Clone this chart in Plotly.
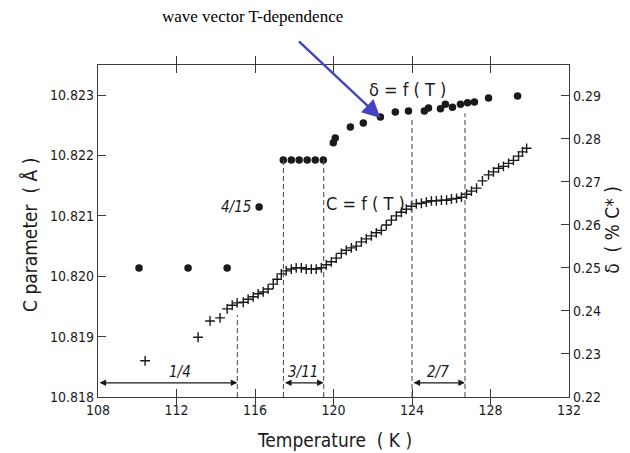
import plotly.graph_objects as go

# Lattice parameter C versus temperature (left axis)
c_temp = [110.40, 113.10, 113.71, 114.22, 114.58, 114.84, 115.09, 115.40, 115.65, 115.91,
          116.16, 116.42, 116.67, 116.93, 117.13, 117.34, 117.59, 117.85, 118.10, 118.36,
          118.61, 118.87, 119.12, 119.38, 119.63, 119.89, 120.14, 120.40, 120.65, 120.91,
          121.16, 121.42, 121.67, 121.93, 122.18, 122.44, 122.69, 122.95, 123.20, 123.46,
          123.71, 123.97, 124.22, 124.48, 124.73, 124.99, 125.24, 125.50, 125.76, 126.01,
          126.27, 126.52, 126.78, 127.03, 127.29, 127.59, 127.90, 128.15, 128.41, 128.66,
          128.92, 129.17, 129.43, 129.63, 129.84]
c_param = [10.81860, 10.81899, 10.81926, 10.81931, 10.81946, 10.81952, 10.81956, 10.81957, 10.81962, 10.81966,
           10.81971, 10.81974, 10.81979, 10.81987, 10.81995, 10.82004, 10.82009, 10.82012, 10.82014, 10.82014,
           10.82012, 10.82012, 10.82012, 10.82014, 10.82019, 10.82024, 10.82030, 10.82038, 10.82043, 10.82047,
           10.82050, 10.82057, 10.82062, 10.82067, 10.82072, 10.82076, 10.82085, 10.82093, 10.82100, 10.82106,
           10.82111, 10.82116, 10.82120, 10.82121, 10.82123, 10.82125, 10.82125, 10.82126, 10.82126, 10.82128,
           10.82129, 10.82131, 10.82136, 10.82141, 10.82146, 10.82158, 10.82168, 10.82173, 10.82179, 10.82182,
           10.82187, 10.82192, 10.82199, 10.82206, 10.82212]

# Modulation wave vector delta versus temperature (right axis)
d_temp = [110.09, 112.59, 114.58, 116.21,
          117.44, 117.85, 118.25, 118.66, 119.07, 119.48,
          119.99, 120.09, 120.86, 121.52, 122.39, 123.15, 123.82, 124.63, 124.84,
          125.45, 125.70, 126.06, 126.47, 126.83, 127.18, 127.90, 129.38]
delta = [0.2500, 0.2500, 0.2500, 0.2642,
         0.2751, 0.2751, 0.2751, 0.2751, 0.2751, 0.2751,
         0.2791, 0.2802, 0.2828, 0.2837, 0.2851, 0.2863, 0.2865, 0.2865, 0.2872,
         0.2870, 0.2881, 0.2874, 0.2881, 0.2884, 0.2886, 0.2895, 0.2900]

# Lock-in phases: boundaries of the commensurate plateaus
phase_labels = ["1/4", "3/11", "2/7"]
phase_start = [108.0, 117.45, 124.0]
phase_end = [115.1, 119.5, 126.7]
phase_label_t = [112.2, 118.46, 125.3]

# Dashed guide lines: temperature and the delta value where each line stops
guide_t = [115.1, 117.45, 119.5, 124.0, 126.7]
guide_top = [0.2391, 0.2751, 0.2751, 0.2849, 0.2860]

x_ticks = [108, 112, 116, 120, 124, 128, 132]
c_ticks = [10.818, 10.819, 10.820, 10.821, 10.822, 10.823]
d_ticks = [0.22, 0.23, 0.24, 0.25, 0.26, 0.27, 0.28, 0.29]

SANS = "Liberation Sans Narrow, DejaVu Sans Condensed, Liberation Sans, Arial"
INK = "#1a1a1a"
AXIS = "#3a3a3a"

fig = go.Figure()

fig.add_trace(go.Scatter(
    x=c_temp, y=c_param, mode="markers", yaxis="y",
    marker=dict(symbol="cross-thin", size=7, line=dict(width=1.4, color=INK)),
    showlegend=False, hoverinfo="x+y"))

fig.add_trace(go.Scatter(
    x=d_temp, y=delta, mode="markers", yaxis="y2",
    marker=dict(symbol="circle", size=7.5, color=INK, line=dict(width=0)),
    showlegend=False, hoverinfo="x+y"))

shapes = []
for t, top in zip(guide_t, guide_top):
    shapes.append(dict(type="line", xref="x", yref="y2", x0=t, x1=t, y0=0.22, y1=top,
                       line=dict(color="#555", width=1.1, dash="5px,3px")))

annotations = []
arrow_y = 0.2233
for lab, t0, t1, tl in zip(phase_labels, phase_start, phase_end, phase_label_t):
    annotations.append(dict(x=t1, y=arrow_y, xref="x", yref="y2", ax=t0, ay=arrow_y,
                            axref="x", ayref="y2", text="", showarrow=True,
                            arrowhead=2, arrowside="end+start", arrowsize=1.1,
                            arrowwidth=1.2, arrowcolor=INK, standoff=0, startstandoff=0))
    annotations.append(dict(x=tl, y=0.2258, xref="x", yref="y2", text="<i>%s</i>" % lab,
                            showarrow=False, font=dict(family=SANS, size=15, color=INK)))


def paper_label(x, y, text, size, angle=0, family=SANS, color=INK):
    return dict(x=x, y=y, xref="paper", yref="paper", text=text, textangle=angle,
                xanchor="center", yanchor="middle", showarrow=False,
                font=dict(family=family, size=size, color=color))


annotations += [
    dict(x=115.9, y=0.2642, xref="x", yref="y2", text="<i>4/15</i>", showarrow=False,
         xanchor="right", font=dict(family=SANS, size=15, color=INK)),
    dict(x=123.77, y=0.2916, xref="x", yref="y2", text="δ = f ( T )", showarrow=False,
         font=dict(family=SANS, size=18, color=INK)),
    dict(x=121.62, y=0.2651, xref="x", yref="y2", text="C = f ( T )", showarrow=False,
         font=dict(family=SANS, size=18, color=INK)),
    # pointer to the delta curve
    dict(x=122.39, y=0.2849, xref="x", yref="y2", ax=-83, ay=-78, text="", showarrow=True,
         arrowhead=2, arrowsize=1.5, arrowwidth=2.4, arrowcolor="#4343c4", standoff=0),
    paper_label(0.327, 1.1446, "wave vector T-dependence", 17,
                family="Liberation Serif, Times New Roman, serif", color="#000"),
    paper_label(0.503, -0.1295, "Temperature  ( K )", 19),
    paper_label(-0.1444, 0.488, "C parameter  ( Å )", 19, angle=-90),
    paper_label(1.091, 0.503, "δ  ( % C* )", 19, angle=-90),
]

fig.update_layout(
    width=630, height=453,
    margin=dict(l=98, r=61, t=65, b=56),
    paper_bgcolor="white", plot_bgcolor="white",
    xaxis=dict(range=[108, 132], tickvals=x_ticks, ticktext=[str(v) for v in x_ticks],
               ticks="inside", ticklen=8, tickwidth=1.2, tickcolor=AXIS,
               showline=True, linecolor=AXIS, linewidth=1.3, mirror="allticks",
               showgrid=False, zeroline=False,
               tickfont=dict(family=SANS, size=14, color=INK)),
    yaxis=dict(range=[10.818, 10.8235], tickvals=c_ticks,
               ticktext=["%.3f" % v for v in c_ticks],
               ticks="inside", ticklen=8, tickwidth=1.2, tickcolor=AXIS,
               showline=True, linecolor=AXIS, linewidth=1.3,
               showgrid=False, zeroline=False,
               tickfont=dict(family=SANS, size=14, color=INK)),
    yaxis2=dict(range=[0.22, 0.2972], tickvals=d_ticks,
                ticktext=["%.2f" % v for v in d_ticks],
                overlaying="y", side="right",
                ticks="inside", ticklen=8, tickwidth=1.2, tickcolor=AXIS,
                showline=True, linecolor=AXIS, linewidth=1.3,
                showgrid=False, zeroline=False,
                tickfont=dict(family=SANS, size=14, color=INK)),
    shapes=shapes,
    annotations=annotations,
)

fig.write_html("out.html")
